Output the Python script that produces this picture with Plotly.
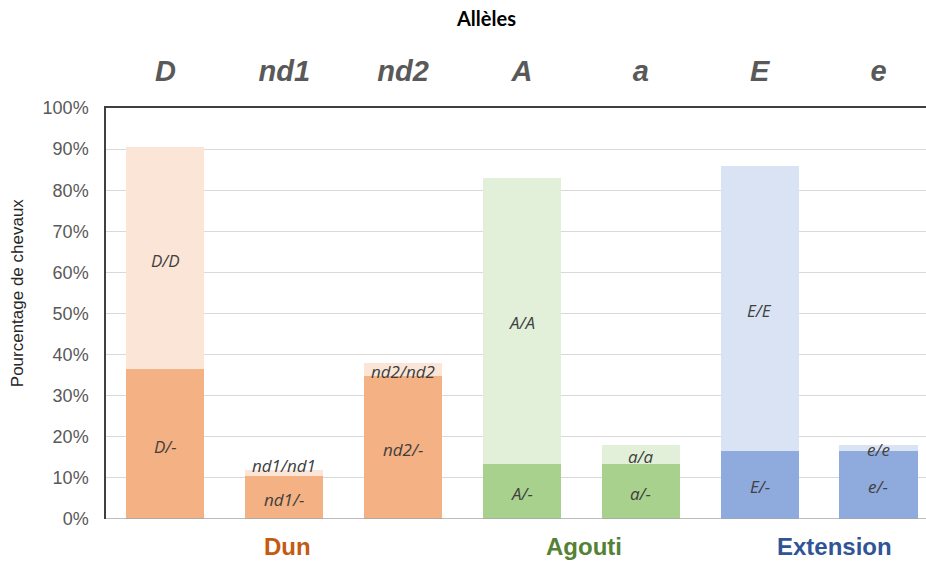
import plotly.graph_objects as go

# Allele categories (top axis) and their gene groups
alleles = ["D", "nd1", "nd2", "A", "a", "E", "e"]
genes = ["Dun", "Agouti", "Extension"]
gene_of_allele = [0, 0, 0, 1, 1, 2, 2]

# Percentage of horses, heterozygous-or-more (X/-) and homozygous (X/X) shares
het_pct = [36.4, 10.4, 34.9, 13.5, 13.5, 16.6, 16.6]
hom_pct = [54.2, 1.6, 3.1, 69.4, 4.6, 69.4, 1.5]

het_labels = ["D/-", "nd1/-", "nd2/-", "A/-", "a/-", "E/-", "e/-"]
hom_labels = ["D/D", "nd1/nd1", "nd2/nd2", "A/A", "a/a", "E/E", "e/e"]

y_ticks = [0, 10, 20, 30, 40, 50, 60, 70, 80, 90, 100]

# Colours per gene: (dark for X/-, light for X/X, title colour)
gene_dark = ["#F4B183", "#A9D18E", "#8FAADC"]
gene_light = ["#FBE5D6", "#E2F0D9", "#DAE3F3"]
gene_text = ["#C55A11", "#548235", "#2F5597"]

ARIAL = "Liberation Sans, Arial, sans-serif"
SEG_FONT = dict(family="Open Sans, sans-serif", size=17, color="#404040")

fig = go.Figure()
fig.add_trace(go.Bar(
    x=alleles, y=het_pct,
    marker=dict(color=[gene_dark[g] for g in gene_of_allele], line=dict(width=0)),
    hoverinfo="skip", showlegend=False,
))
fig.add_trace(go.Bar(
    x=alleles, y=hom_pct,
    marker=dict(color=[gene_light[g] for g in gene_of_allele], line=dict(width=0)),
    hoverinfo="skip", showlegend=False,
))

annotations = []
# Segment labels, centred in each stacked segment
for i, a in enumerate(alleles):
    annotations.append(dict(
        x=a, y=het_pct[i] / 2, xref="x", yref="y",
        text=f"<i>{het_labels[i]}</i>", showarrow=False, font=SEG_FONT,
        yanchor="middle", yshift=-2,
    ))
    lift = 9 if hom_pct[i] < 2 and het_pct[i] < 12 else 0
    annotations.append(dict(
        x=a, y=het_pct[i] + hom_pct[i] / 2, xref="x", yref="y",
        text=f"<i>{hom_labels[i]}</i>", showarrow=False, font=SEG_FONT,
        yanchor="middle", yshift=-2 + lift,
    ))

# Gene names under the groups of bars
for g, name in enumerate(genes):
    idx = [i for i, k in enumerate(gene_of_allele) if k == g]
    centre = sum(idx) / len(idx)
    annotations.append(dict(
        x=centre, y=-0.066, xref="x", yref="paper",
        text=f"<b>{name}</b>", showarrow=False, yanchor="middle",
        font=dict(family=ARIAL, size=24, color=gene_text[g]),
        xshift=15 if name == "Extension" else 3,
    ))

# Chart title and y-axis title
annotations.append(dict(
    x=0.463, y=1.219, xref="paper", yref="paper", text="<b>Allèles</b>",
    showarrow=False, xanchor="center", yanchor="middle",
    font=dict(family="Lato, sans-serif", size=20, color="#000000"),
))
annotations.append(dict(
    x=-0.107, y=0.55, xref="paper", yref="paper", text="Pourcentage de chevaux",
    textangle=-90, showarrow=False, xanchor="center", yanchor="middle",
    font=dict(family=ARIAL, size=17, color="#262626"),
))

fig.update_layout(
    width=926, height=561,
    margin=dict(l=106, r=0, t=108, b=42),
    paper_bgcolor="white", plot_bgcolor="white",
    barmode="stack", bargap=0.343,
    annotations=annotations,
    shapes=[dict(type="line", xref="paper", yref="y", x0=0, x1=1, y0=0, y1=0,
                 line=dict(color="#A6A6A6", width=1.5), layer="above")],
    xaxis=dict(
        side="top", type="category", categoryorder="array", categoryarray=alleles,
        range=[-0.5, 6.40],
        tickmode="array", tickvals=alleles,
        ticktext=[f"<b><i>{a}</i></b>" for a in alleles],
        tickfont=dict(family=ARIAL, size=29, color="#595959"),
        ticks="", ticklabelstandoff=14,
        showline=True, linecolor="#404040", linewidth=1.5,
        showgrid=False, fixedrange=True,
    ),
    yaxis=dict(
        range=[0, 100], tickvals=y_ticks, ticktext=[f"{v}%" for v in y_ticks],
        tickfont=dict(family=ARIAL, size=18, color="#595959"),
        ticks="", ticklabelstandoff=12,
        showgrid=True, gridcolor="#D9D9D9", gridwidth=1,
        zeroline=False,
        showline=True, linecolor="#404040", linewidth=1.5,
        fixedrange=True,
    ),
)

fig.write_html("out.html")
